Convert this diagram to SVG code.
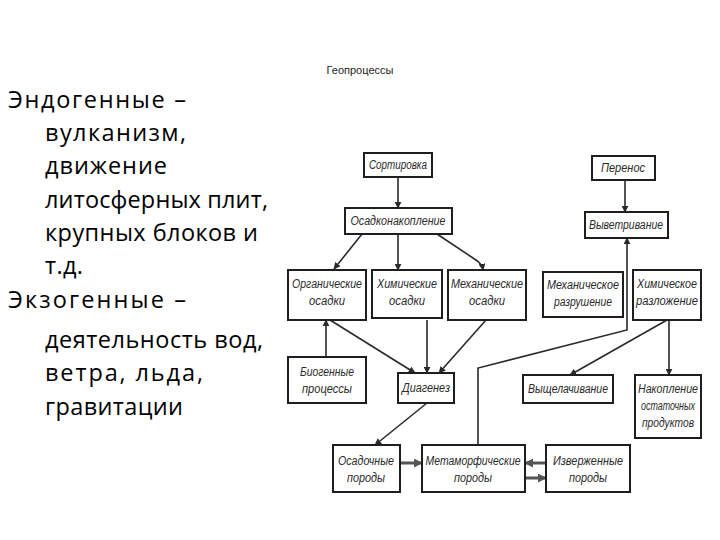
<svg xmlns="http://www.w3.org/2000/svg" width="720" height="540" viewBox="0 0 720 540">
<style>
.bx{fill:#fff;stroke:#1e1e1e;stroke-width:2}
.bl{font-family:"Liberation Sans",Arial,sans-serif;font-style:italic;font-size:12.5px;fill:#2a2a2a;text-anchor:middle}
.ln{fill:none;stroke:#2a2a2a;stroke-width:1.6}
.gl{fill:none;stroke:#555;stroke-width:3}
.lt{font-family:"Open Sans","Noto Sans","DejaVu Sans",sans-serif;font-size:23.5px;fill:#000}
</style>
<defs>
<marker id="ah" viewBox="0 0 10 10" refX="9" refY="5" markerWidth="7" markerHeight="7" markerUnits="userSpaceOnUse" orient="auto"><path d="M0,0 L10,5 L0,10 z" fill="#2a2a2a"/></marker>
<marker id="gh" viewBox="0 0 10 10" refX="8" refY="5" markerWidth="9" markerHeight="9" markerUnits="userSpaceOnUse" orient="auto"><path d="M0,0 L10,5 L0,10 z" fill="#555"/></marker>
</defs>
<rect width="720" height="540" fill="#fff"/>
<text x="360" y="74" font-family="Liberation Sans, sans-serif" font-size="11" fill="#222" text-anchor="middle">Геопроцессы</text>
<g id="left-text" class="lt">
<text x="8" y="108" textLength="178" lengthAdjust="spacing">Эндогенные –</text>
<text x="45" y="141" textLength="141" lengthAdjust="spacing">вулканизм,</text>
<text x="45" y="174" textLength="122" lengthAdjust="spacing">движение</text>
<text x="45" y="208" textLength="223" lengthAdjust="spacing">литосферных плит,</text>
<text x="45" y="241" textLength="213" lengthAdjust="spacing">крупных блоков и</text>
<text x="45" y="274" textLength="38" lengthAdjust="spacing">т.д.</text>
<text x="8" y="308" textLength="178" lengthAdjust="spacing">Экзогенные –</text>
<text x="45" y="348" textLength="218" lengthAdjust="spacing">деятельность вод,</text>
<text x="45" y="381" textLength="158" lengthAdjust="spacing">ветра, льда,</text>
<text x="45" y="415" textLength="138" lengthAdjust="spacing">гравитации</text>
</g>
<g id="connectors">
<line class="ln" x1="398" y1="177" x2="398" y2="208" marker-end="url(#ah)"/>
<line class="ln" x1="362" y1="234" x2="334" y2="269" marker-end="url(#ah)"/>
<line class="ln" x1="398" y1="234" x2="398" y2="270" marker-end="url(#ah)"/>
<path class="ln" d="M437,234 L476,260 Q482,264 483,270" marker-end="url(#ah)"/>
<line class="ln" x1="625" y1="180" x2="625" y2="212" marker-end="url(#ah)"/>
<path class="ln" d="M478,445 L478,368 L627,330 L627,238" marker-end="url(#ah)"/>
<line class="ln" x1="667" y1="320" x2="570" y2="375" marker-end="url(#ah)"/>
<line class="ln" x1="669" y1="320" x2="669" y2="375" marker-end="url(#ah)"/>
<line class="ln" x1="326" y1="357" x2="326" y2="320" marker-end="url(#ah)"/>
<line class="ln" x1="330" y1="320" x2="415" y2="373" marker-end="url(#ah)"/>
<line class="ln" x1="427" y1="320" x2="427" y2="373" marker-end="url(#ah)"/>
<line class="ln" x1="486" y1="320" x2="439" y2="373" marker-end="url(#ah)"/>
<line class="ln" x1="427" y1="403" x2="375" y2="445" marker-end="url(#ah)"/>
<line class="gl" x1="400" y1="463" x2="421" y2="463" marker-end="url(#gh)"/>
<line class="gl" x1="546" y1="463" x2="526" y2="463" marker-end="url(#gh)"/>
<line class="gl" x1="526" y1="478" x2="545" y2="478" marker-end="url(#gh)"/>
</g>
<g id="sortirovka"><rect class="bx" x="364" y="153" width="68" height="24"/><text class="bl" x="398" y="169" textLength="58" lengthAdjust="spacingAndGlyphs">Сортировка</text></g>
<g id="perenos"><rect class="bx" x="592" y="156" width="63" height="24"/><text class="bl" x="623" y="172" textLength="44" lengthAdjust="spacingAndGlyphs">Перенос</text></g>
<g id="osadkonakoplenie"><rect class="bx" x="345" y="208" width="107" height="26"/><text class="bl" x="398" y="225" textLength="95" lengthAdjust="spacingAndGlyphs">Осадконакопление</text></g>
<g id="vyvetrivanie"><rect class="bx" x="585" y="212" width="83" height="26"/><text class="bl" x="626" y="229" textLength="74" lengthAdjust="spacingAndGlyphs">Выветривание</text></g>
<g id="organicheskie"><rect class="bx" x="288" y="270" width="78" height="50"/><text class="bl" x="327" y="288" textLength="70" lengthAdjust="spacingAndGlyphs">Органические</text><text class="bl" x="327" y="305" textLength="36" lengthAdjust="spacingAndGlyphs">осадки</text></g>
<g id="khimicheskie"><rect class="bx" x="372" y="270" width="70" height="48"/><text class="bl" x="407" y="288" textLength="60" lengthAdjust="spacingAndGlyphs">Химические</text><text class="bl" x="407" y="305" textLength="36" lengthAdjust="spacingAndGlyphs">осадки</text></g>
<g id="mekhanicheskie"><rect class="bx" x="448" y="270" width="78" height="50"/><text class="bl" x="487" y="288" textLength="72" lengthAdjust="spacingAndGlyphs">Механические</text><text class="bl" x="487" y="305" textLength="36" lengthAdjust="spacingAndGlyphs">осадки</text></g>
<g id="mekh-razrushenie"><rect class="bx" x="543" y="272" width="80" height="45"/><text class="bl" x="583" y="289" textLength="72" lengthAdjust="spacingAndGlyphs">Механическое</text><text class="bl" x="583" y="306" textLength="58" lengthAdjust="spacingAndGlyphs">разрушение</text></g>
<g id="khim-razlozhenie"><rect class="bx" x="633" y="270" width="68" height="50"/><text class="bl" x="667" y="288" textLength="60" lengthAdjust="spacingAndGlyphs">Химическое</text><text class="bl" x="667" y="305" textLength="62" lengthAdjust="spacingAndGlyphs">разложение</text></g>
<g id="biogennye"><rect class="bx" x="288" y="357" width="78" height="46"/><text class="bl" x="327" y="376" textLength="54" lengthAdjust="spacingAndGlyphs">Биогенные</text><text class="bl" x="327" y="393" textLength="50" lengthAdjust="spacingAndGlyphs">процессы</text></g>
<g id="diagenez"><rect class="bx" x="398" y="373" width="56" height="30"/><text class="bl" x="426" y="392" textLength="48" lengthAdjust="spacingAndGlyphs">Диагенез</text></g>
<g id="vyshchelachivanie"><rect class="bx" x="523" y="375" width="90" height="28"/><text class="bl" x="568" y="393" textLength="80" lengthAdjust="spacingAndGlyphs">Выщелачивание</text></g>
<g id="nakoplenie"><rect class="bx" x="635" y="375" width="66" height="63"/><text class="bl" x="668" y="393" textLength="60" lengthAdjust="spacingAndGlyphs">Накопление</text><text class="bl" x="668" y="410" textLength="54" lengthAdjust="spacingAndGlyphs">остаточных</text><text class="bl" x="668" y="427" textLength="52" lengthAdjust="spacingAndGlyphs">продуктов</text></g>
<g id="osadochnye"><rect class="bx" x="333" y="445" width="67" height="47"/><text class="bl" x="366" y="465" textLength="56" lengthAdjust="spacingAndGlyphs">Осадочные</text><text class="bl" x="366" y="482" textLength="38" lengthAdjust="spacingAndGlyphs">породы</text></g>
<g id="metamorficheskie"><rect class="bx" x="422" y="445" width="103" height="47"/><text class="bl" x="473" y="465" textLength="95" lengthAdjust="spacingAndGlyphs">Метаморфические</text><text class="bl" x="473" y="482" textLength="38" lengthAdjust="spacingAndGlyphs">породы</text></g>
<g id="izverzhennye"><rect class="bx" x="546" y="445" width="84" height="47"/><text class="bl" x="588" y="465" textLength="70" lengthAdjust="spacingAndGlyphs">Изверженные</text><text class="bl" x="588" y="482" textLength="38" lengthAdjust="spacingAndGlyphs">породы</text></g>
</svg>
